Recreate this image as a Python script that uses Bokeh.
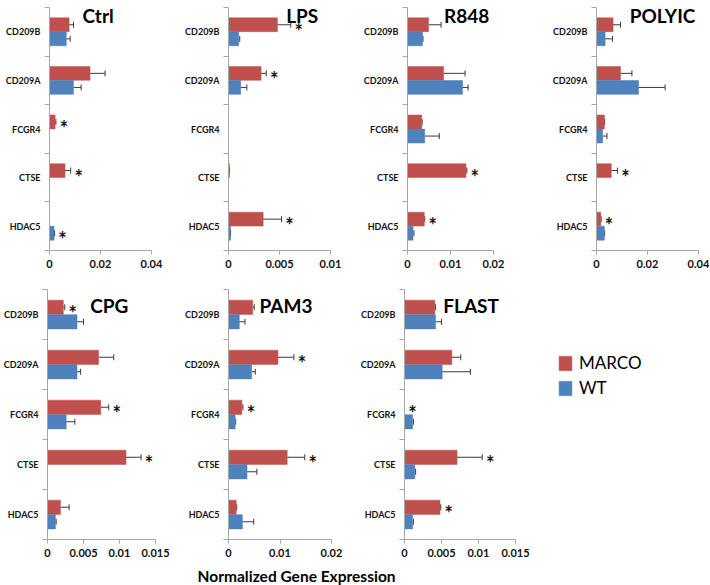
from bokeh.plotting import figure
from bokeh.layouts import row, column
from bokeh.models import (Range1d, FixedTicker, ColumnDataSource, Whisker, TeeHead,
                          Label, Legend, LegendItem)
from bokeh.core.properties import value
from bokeh.embed import file_html
from bokeh.resources import INLINE

# ---------------- data ----------------
genes = ["CD209B", "CD209A", "FCGR4", "CTSE", "HDAC5"]
series_names = ["MARCO", "WT"]

ctrl_marco = [0.0077, 0.0159, 0.0022, 0.0061, 0.0]
ctrl_marco_err = [0.0017, 0.0059, 0.0003, 0.0022, 0.0]
ctrl_wt = [0.0066, 0.0094, 0.0, 0.0, 0.0018]
ctrl_wt_err = [0.0015, 0.0030, 0.0, 0.0, 0.0002]
ctrl_sig = ["", "", "MARCO", "MARCO", "WT"]

lps_marco = [0.0048, 0.0032, 0.0, 0.0001, 0.0034]
lps_marco_err = [0.0013, 0.0005, 0.0, 0.0, 0.0018]
lps_wt = [0.0010, 0.0012, 0.0, 0.0, 0.0002]
lps_wt_err = [0.0001, 0.0006, 0.0, 0.0, 0.0]
lps_sig = ["MARCO", "MARCO", "", "", "MARCO"]

r848_marco = [0.0049, 0.0084, 0.0033, 0.0136, 0.0039]
r848_marco_err = [0.0029, 0.0050, 0.0001, 0.0002, 0.0001]
r848_wt = [0.0035, 0.0128, 0.0040, 0.0, 0.0013]
r848_wt_err = [0.0001, 0.0013, 0.0034, 0.0, 0.0002]
r848_sig = ["", "", "", "MARCO", "MARCO"]

polyic_marco = [0.0065, 0.0094, 0.0031, 0.0058, 0.0017]
polyic_marco_err = [0.0029, 0.0045, 0.0001, 0.0024, 0.0001]
polyic_wt = [0.0034, 0.0165, 0.0024, 0.0, 0.0031]
polyic_wt_err = [0.0029, 0.0104, 0.0017, 0.0, 0.0001]
polyic_sig = ["", "", "", "MARCO", "MARCO"]

cpg_marco = [0.0022, 0.0071, 0.0074, 0.0109, 0.0018]
cpg_marco_err = [0.0002, 0.0021, 0.0011, 0.0021, 0.0012]
cpg_wt = [0.0041, 0.0041, 0.0026, 0.0, 0.0011]
cpg_wt_err = [0.0009, 0.0005, 0.0012, 0.0, 0.0001]
cpg_sig = ["MARCO", "", "MARCO", "MARCO", ""]

pam3_marco = [0.0047, 0.0096, 0.0026, 0.0114, 0.0015]
pam3_marco_err = [0.0003, 0.0031, 0.0002, 0.0034, 0.0001]
pam3_wt = [0.0021, 0.0045, 0.0013, 0.0036, 0.0027]
pam3_wt_err = [0.0011, 0.0007, 0.0001, 0.0019, 0.0022]
pam3_sig = ["", "MARCO", "MARCO", "MARCO", ""]

flast_marco = [0.0041, 0.0064, 0.0, 0.0071, 0.0048]
flast_marco_err = [0.0001, 0.0012, 0.0, 0.0034, 0.0001]
flast_wt = [0.0042, 0.0051, 0.0011, 0.0014, 0.0011]
flast_wt_err = [0.0008, 0.0038, 0.0001, 0.0001, 0.0001]
flast_sig = ["", "", "MARCO", "MARCO", "MARCO"]

ticks_04 = [0, 0.02, 0.04]
labels_04 = ["0", "0.02", "0.04"]
ticks_01 = [0, 0.005, 0.01]
labels_01 = ["0", "0.005", "0.01"]
ticks_02 = [0, 0.01, 0.02]
labels_02 = ["0", "0.01", "0.02"]
ticks_015 = [0, 0.005, 0.01, 0.015]
labels_015 = ["0", "0.005", "0.01", "0.015"]

axis_title = "Normalized Gene Expression"

# ---------------- style ----------------
RED = "#C0504D"
BLUE = "#4F81BD"
AXIS = "#A6A6A6"
ERR = "#3a3a3a"
TXT = "#111111"
FONT = "Lato"
BAR_H = 0.285
OFF = 0.145


def bar_sources(marco, marco_err, wt, wt_err):
    n = len(genes)
    centers = [n - 0.5 - i for i in range(n)]
    out = []
    for vals, errs, dy in ((marco, marco_err, OFF), (wt, wt_err, -OFF)):
        ys = [c + dy for c, v in zip(centers, vals) if v > 0]
        xs = [v for v in vals if v > 0]
        es = [v + e for v, e in zip(vals, errs) if v > 0]
        out.append(dict(y=ys, right=xs, upper=es))
    return centers, out


def make_panel(title, marco, marco_err, wt, wt_err, sig, ticks, labels,
               width, height, bl, br, bt, bb, title_frac, title_dy):
    n = len(genes)
    xmax = ticks[-1]
    p = figure(width=width, height=height, x_range=Range1d(0, xmax),
               y_range=Range1d(0, n), toolbar_location=None,
               output_backend="svg", title=None,
               min_border_left=bl, min_border_right=br,
               min_border_top=bt, min_border_bottom=bb)
    p.outline_line_color = None
    p.xgrid.visible = False
    p.ygrid.visible = False
    p.background_fill_color = "white"
    p.border_fill_color = "white"

    centers, datas = bar_sources(marco, marco_err, wt, wt_err)
    for d, col in zip(datas, (RED, BLUE)):
        src = ColumnDataSource(d)
        p.hbar(y="y", right="right", left=0, height=BAR_H, source=src,
               fill_color=col, line_color=col, line_width=0.5)
        w = Whisker(source=src, base="y", lower="right", upper="upper",
                    dimension="width", line_color=ERR, line_width=1,
                    lower_head=None,
                    upper_head=TeeHead(size=6, line_color=ERR, line_width=1))
        p.add_layout(w)

    # significance stars
    sx, sy = [], []
    for i, s in enumerate(sig):
        if s == "MARCO":
            sx.append(marco[i] + marco_err[i])
            sy.append(centers[i] + OFF)
        elif s == "WT":
            sx.append(wt[i] + wt_err[i])
            sy.append(centers[i] - OFF)
    p.text(x=sx, y=sy, text=["*"] * len(sx), text_font=value(FONT),
           text_font_style="bold", text_font_size="20px", text_color=TXT,
           text_align="center", text_baseline="middle", x_offset=8, y_offset=6)

    # x axis
    xa = p.xaxis[0]
    xa.ticker = FixedTicker(ticks=ticks)
    xa.major_label_overrides = {t: l for t, l in zip(ticks, labels)}
    xa.axis_line_color = AXIS
    xa.major_tick_line_color = AXIS
    xa.major_tick_out = 4
    xa.major_tick_in = 0
    xa.minor_tick_line_color = None
    xa.major_label_text_font = FONT
    xa.major_label_text_font_style = "bold"
    xa.major_label_text_font_size = "11px"
    xa.major_label_text_color = TXT
    xa.major_label_standoff = 5

    # y axis (categories, ticks at the boundaries)
    ya = p.yaxis[0]
    ya.ticker = FixedTicker(ticks=centers, minor_ticks=list(range(n + 1)))
    ya.major_label_overrides = {c: g for c, g in zip(centers, genes)}
    ya.axis_line_color = AXIS
    ya.major_tick_line_color = None
    ya.major_tick_out = 2
    ya.major_tick_in = 0
    ya.minor_tick_line_color = AXIS
    ya.minor_tick_out = 5
    ya.minor_tick_in = 0
    ya.major_label_text_font = FONT
    ya.major_label_text_font_style = "bold"
    ya.major_label_text_font_size = "9px"
    ya.major_label_text_color = TXT
    ya.major_label_standoff = 4

    p.add_layout(Label(x=title_frac * xmax, y=n, text=title, text_font=FONT,
                       text_font_style="bold", text_font_size="19px",
                       text_color="#000000", text_align="center",
                       text_baseline="top", y_offset=title_dy))
    return p


H1, BT1, BB1 = 282, 7, 32
H2, BT2, BB2 = 283, 7, 26

p1 = make_panel("Ctrl", ctrl_marco, ctrl_marco_err, ctrl_wt, ctrl_wt_err, ctrl_sig,
                ticks_04, labels_04, 180, H1, 49, 29, BT1, BB1, 0.477, 4)
p2 = make_panel("LPS", lps_marco, lps_marco_err, lps_wt, lps_wt_err, lps_sig,
                ticks_01, labels_01, 178, H1, 48, 28, BT1, BB1, 0.723, 4)
p3 = make_panel("R848", r848_marco, r848_marco_err, r848_wt, r848_wt_err, r848_sig,
                ticks_02, labels_02, 177, H1, 49, 42, BT1, BB1, 0.687, 4)
p4 = make_panel("POLYIC", polyic_marco, polyic_marco_err, polyic_wt, polyic_wt_err,
                polyic_sig, ticks_04, labels_04, 175, H1, 61, 12, BT1, BB1, 0.647, 4)
p5 = make_panel("CPG", cpg_marco, cpg_marco_err, cpg_wt, cpg_wt_err, cpg_sig,
                ticks_015, labels_015, 180, H2, 44, 25, BT2, BB2, 0.572, -4)
p6 = make_panel("PAM3", pam3_marco, pam3_marco_err, pam3_wt, pam3_wt_err, pam3_sig,
                ticks_02, labels_02, 177, H2, 48, 26, BT2, BB2, 0.558, -4)
p7 = make_panel("FLAST", flast_marco, flast_marco_err, flast_wt, flast_wt_err,
                flast_sig, ticks_015, labels_015, 173, H2, 46, 15, BT2, BB2, 0.60, -4)

# legend panel: the FLAST series drawn hidden, only their legend entries show
pl = figure(width=180, height=H2, x_range=Range1d(0, 1), y_range=Range1d(0, 1),
            toolbar_location=None, output_backend="svg", title=None,
            x_axis_type=None, y_axis_type=None,
            min_border_left=0, min_border_right=0, min_border_top=0, min_border_bottom=0)
pl.outline_line_color = None
pl.xgrid.visible = False
pl.ygrid.visible = False
_, leg_datas = bar_sources(flast_marco, flast_marco_err, flast_wt, flast_wt_err)
leg_rends = []
for d, col in zip(leg_datas, (RED, BLUE)):
    r = pl.hbar(y="y", right="right", left=0, height=BAR_H,
                source=ColumnDataSource(d), fill_color=col, line_color=col,
                line_width=0.5, visible=False)
    leg_rends.append(r)
leg = Legend(items=[LegendItem(label=series_names[0], renderers=[leg_rends[0]]),
                    LegendItem(label=series_names[1], renderers=[leg_rends[1]])],
             location=(27, 141), glyph_width=16, glyph_height=18, label_height=18,
             spacing=4, padding=0, margin=0, label_standoff=6,
             label_text_font=FONT, label_text_font_size="17px",
             label_text_color="#000000", border_line_color=None,
             background_fill_alpha=0, click_policy="none")
pl.add_layout(leg)

# common axis title
pt = figure(width=710, height=20, x_range=Range1d(0, 1), y_range=Range1d(0, 1),
            toolbar_location=None, output_backend="svg", title=None,
            x_axis_type=None, y_axis_type=None,
            min_border_left=0, min_border_right=0, min_border_top=0, min_border_bottom=0)
pt.outline_line_color = None
pt.xgrid.visible = False
pt.ygrid.visible = False
pt.text(x=[0.417], y=[0.5], text=[axis_title], text_font=value(FONT),
        text_font_style="bold", text_font_size="15.5px", text_color="#000000",
        text_align="center", text_baseline="middle")

layout = column(row(p1, p2, p3, p4, spacing=0),
                row(p5, p6, p7, pl, spacing=0),
                pt, spacing=0)

open("out.html", "w").write(file_html(layout, INLINE))
